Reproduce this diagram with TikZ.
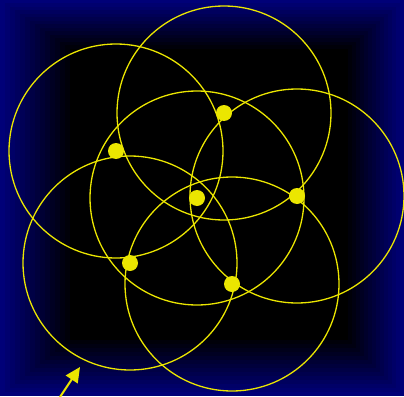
\documentclass[tikz,border=0pt]{standalone}
\usetikzlibrary{arrows.meta}
\definecolor{navy}{RGB}{0,0,120}
\definecolor{ylw}{RGB}{235,230,0}
\tikzset{
  ring/.style={draw=ylw, line width=1.3pt},
  hub/.style={circle, fill=ylw, inner sep=0pt, minimum size=16pt},
}
\begin{document}
\begin{tikzpicture}[x=1pt,y=-1pt]
\useasboundingbox (0,0) rectangle (404,396);
\foreach \i in {0,...,14} {
  \pgfmathsetmacro\f{100-\i*100/14}
  \fill[navy!\f!black] (\i*5,\i*3.5) rectangle (404-\i*4,396-\i*4);
}
\coordinate (ca) at (224,113);
\coordinate (cb) at (116,151);
\coordinate (cc) at (297,196);
\coordinate (cd) at (130,263);
\coordinate (ce) at (232,284);
\coordinate (cf) at (197,198);
\foreach \c in {ca,cb,cc,cd,ce,cf} {
  \draw[ring] (\c) circle[radius=107];
}
\node[hub] (a) at (ca) {};
\node[hub] (b) at (cb) {};
\node[hub] (c) at (cc) {};
\node[hub] (d) at (cd) {};
\node[hub] (e) at (ce) {};
\node[hub] (f) at (cf) {};
\coordinate (tail) at (58,400);
\coordinate (tip) at (80,367);
\draw[ylw, line width=2pt, -{Triangle[length=15pt,width=14pt]}] (tail) -- (tip);
\end{tikzpicture}
\end{document}
